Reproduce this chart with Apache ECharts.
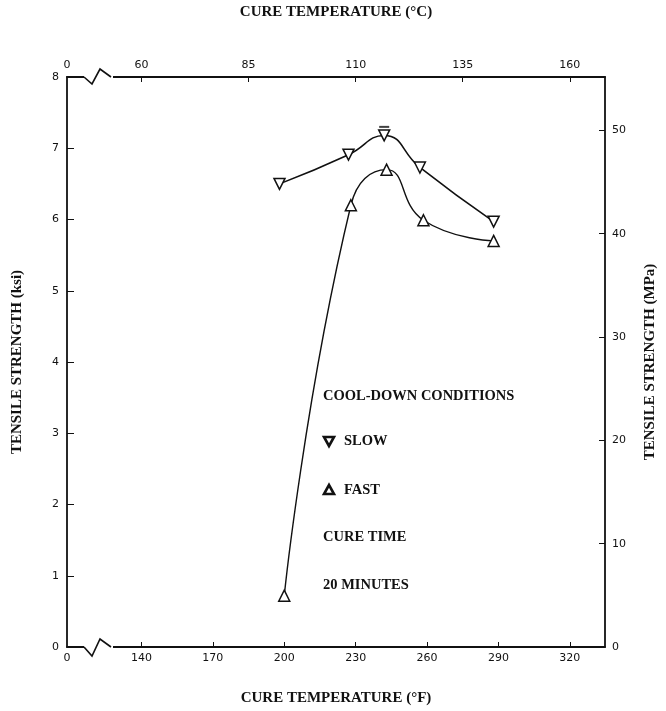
<!DOCTYPE html>
<html>
<head>
<meta charset="utf-8">
<script src="https://cdn.jsdelivr.net/npm/echarts@6/dist/echarts.min.js"></script>
<style>
  html, body { margin: 0; padding: 0; background: #fff; }
  #chart { width: 666px; height: 711px; }
</style>
</head>
<body>
<div id="chart"></div>
<script>
// Cure temperature (°F) and tensile strength (ksi), slow cool-down
const slowTempF = [198, 227, 242, 257, 288];
const slowKsi = [6.5, 6.91, 7.18, 6.73, 5.97];
// Cure temperature (°F) and tensile strength (ksi), fast cool-down
const fastTempF = [200, 228, 243, 258.5, 288];
const fastKsi = [0.72, 6.2, 6.7, 5.99, 5.7];
// Short bar drawn above the slow-cool peak
const peakMark = [[242, 7.3]];

// Tick values
const fahrenheitTicks = [140, 170, 200, 230, 260, 290, 320];
const celsiusTicks = [60, 85, 110, 135, 160];
const mpaTicks = [0, 10, 20, 30, 40, 50];

// The temperature axes are broken at the left end, where they read 0
const F_MIN = 108.7;
const F_MAX = 334.8;
const KSI_MAX = 8;
const KSI_TO_MPA = 6.895;

const toC = f => (f - 32) * 5 / 9;
const C_MIN = toC(F_MIN);
const C_MAX = toC(F_MAX);

const zip = (xs, ys) => xs.map((x, i) => [x, ys[i]]);

const titleFont = 'Liberation Serif';
const tickFont = 'DejaVu Sans';
const ink = '#111';

const tickLabel = { color: ink, fontFamily: tickFont, fontSize: 11 };
const nameStyle = { color: ink, fontFamily: titleFont, fontWeight: 'bold', fontSize: 15 };

const chart = echarts.init(document.getElementById('chart'), null, { renderer: 'canvas' });

const option = {
  animation: false,
  backgroundColor: '#fff',
  grid: { left: 67, right: 51, top: 74, bottom: 57 },
  xAxis: [
    {
      type: 'value', position: 'bottom', min: F_MIN, max: F_MAX,
      name: 'CURE TEMPERATURE (°F)', nameLocation: 'middle', nameGap: 44,
      nameTextStyle: nameStyle,
      axisLine: { onZero: false, lineStyle: { color: ink, width: 1.8 } },
      axisTick: { inside: true, length: 5, customValues: fahrenheitTicks, lineStyle: { color: ink, width: 1 } },
      axisLabel: {
        ...tickLabel, margin: 6,
        customValues: [F_MIN].concat(fahrenheitTicks),
        formatter: v => (Math.abs(v - F_MIN) < 1e-6 ? '0' : String(v))
      },
      splitLine: { show: false }
    },
    {
      type: 'value', position: 'top', min: C_MIN, max: C_MAX,
      name: 'CURE TEMPERATURE (°C)', nameLocation: 'middle', nameGap: 57,
      nameTextStyle: nameStyle,
      axisLine: { onZero: false, lineStyle: { color: ink, width: 1.8 } },
      axisTick: { inside: true, length: 5, customValues: celsiusTicks, lineStyle: { color: ink, width: 1 } },
      axisLabel: {
        ...tickLabel, margin: 6,
        customValues: [C_MIN].concat(celsiusTicks),
        formatter: v => (Math.abs(v - C_MIN) < 1e-6 ? '0' : String(v))
      },
      splitLine: { show: false }
    }
  ],
  yAxis: [
    {
      type: 'value', position: 'left', min: 0, max: KSI_MAX, interval: 1,
      name: 'TENSILE STRENGTH (ksi)', nameLocation: 'middle', nameGap: 42,
      nameTextStyle: nameStyle,
      axisLine: { onZero: false, lineStyle: { color: ink, width: 1.8 } },
      axisTick: { inside: true, length: 7, lineStyle: { color: ink, width: 1 } },
      axisLabel: { ...tickLabel, margin: 8 },
      splitLine: { show: false }
    },
    {
      type: 'value', position: 'right', min: 0, max: KSI_MAX * KSI_TO_MPA,
      name: 'TENSILE STRENGTH (MPa)', nameLocation: 'middle', nameGap: 38,
      nameTextStyle: nameStyle,
      axisLine: { onZero: false, lineStyle: { color: ink, width: 1.8 } },
      axisTick: { inside: true, length: 6, customValues: mpaTicks, lineStyle: { color: ink, width: 1 } },
      axisLabel: { ...tickLabel, margin: 7, customValues: mpaTicks },
      splitLine: { show: false }
    }
  ],
  series: [
    {
      name: 'SLOW', type: 'line', xAxisIndex: 0, yAxisIndex: 0,
      data: zip(slowTempF, slowKsi), smooth: 0.5, smoothMonotone: 'none',
      symbol: 'triangle', symbolRotate: 180, symbolSize: 11,
      itemStyle: { color: '#fff', borderColor: ink, borderWidth: 1.5 },
      lineStyle: { color: ink, width: 1.6 }, z: 3
    },
    {
      name: 'FAST', type: 'line', xAxisIndex: 0, yAxisIndex: 0,
      data: zip(fastTempF, fastKsi), smooth: 0.5, smoothMonotone: 'none',
      symbol: 'triangle', symbolSize: 11,
      itemStyle: { color: '#fff', borderColor: ink, borderWidth: 1.5 },
      lineStyle: { color: ink, width: 1.4 }, z: 3
    },
    {
      name: 'peak', type: 'scatter', xAxisIndex: 0, yAxisIndex: 0,
      data: peakMark, symbol: 'rect', symbolSize: [10, 2],
      itemStyle: { color: ink }, silent: true, z: 4
    }
  ]
};

chart.setOption(option);

// Break marks on the temperature axes and the in-plot legend
function decorate() {
  const x0 = chart.convertToPixel({ xAxisIndex: 0 }, F_MIN);
  const yb = chart.convertToPixel({ yAxisIndex: 0 }, 0);
  const yt = chart.convertToPixel({ yAxisIndex: 0 }, KSI_MAX);

  const breakMark = (y, down, up) => [
    { type: 'line', shape: { x1: x0 + 17, y1: y, x2: x0 + 46, y2: y },
      style: { stroke: '#fff', lineWidth: 4 }, z: 50 },
    { type: 'polyline',
      shape: { points: [[x0 + 17, y], [x0 + 25, y + down], [x0 + 33, y - up], [x0 + 44, y]] },
      style: { stroke: ink, lineWidth: 1.6, fill: null }, z: 51 }
  ];

  const legendX = 323;
  const txt = (x, y, s) => ({
    type: 'text', x, y,
    style: { text: s, fill: ink, font: 'bold 14.5px "' + titleFont + '"', verticalAlign: 'middle' }, z: 60
  });
  const tri = (cx, cy, down) => ({
    type: 'polygon', z: 60,
    shape: { points: down
      ? [[cx - 5, cy - 4], [cx + 5, cy - 4], [cx, cy + 5]]
      : [[cx - 5, cy + 4], [cx + 5, cy + 4], [cx, cy - 5]] },
    style: { fill: '#fff', stroke: ink, lineWidth: 2.6, lineJoin: 'miter' }
  });

  chart.setOption({
    graphic: [
      ...breakMark(yb, 9, 8),
      ...breakMark(yt, 7, 8),
      txt(legendX, 396, 'COOL-DOWN CONDITIONS'),
      tri(legendX + 6, 441, true),
      txt(legendX + 21, 441, 'SLOW'),
      tri(legendX + 6, 490, false),
      txt(legendX + 21, 490, 'FAST'),
      txt(legendX, 537, 'CURE TIME'),
      txt(legendX, 585, '20 MINUTES')
    ]
  });
}
decorate();
</script>
</body>
</html>
